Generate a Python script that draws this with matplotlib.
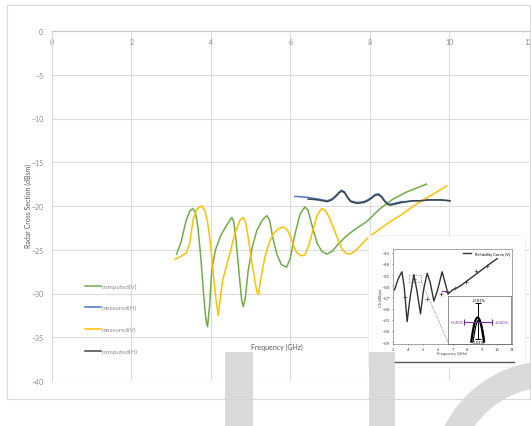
import numpy as np
import matplotlib
matplotlib.use("Agg")
import matplotlib.pyplot as plt
from matplotlib.patches import Rectangle, Wedge
from matplotlib.transforms import IdentityTransform

plt.rcParams['font.family'] = ['Lato', 'DejaVu Sans']

# ---- main series (frequency in GHz, RCS in dBsm) ----
comp_v_f = [3.14, 3.25, 3.38, 3.47, 3.55, 3.62, 3.68, 3.75, 3.82, 3.88, 3.92, 3.97, 4.03, 4.12,
            4.25, 4.40, 4.53, 4.58, 4.64, 4.72, 4.78, 4.82, 4.87, 4.94, 5.04, 5.16, 5.30, 5.41,
            5.48, 5.57, 5.67, 5.78, 5.91, 6.00, 6.12, 6.25, 6.37, 6.45, 6.57, 6.68, 6.80, 6.92,
            7.05, 7.20, 7.42, 7.65, 7.92, 8.26, 8.59, 8.93, 9.20, 9.43]
comp_v_db = [-25.5, -24.2, -21.7, -20.6, -20.3, -20.8, -22.5, -25.8, -30.0, -33.0, -33.8, -31.5,
             -27.2, -25.0, -23.4, -22.2, -21.3, -21.8, -24.0, -28.0, -30.8, -31.5, -30.5, -27.5,
             -24.8, -22.8, -21.6, -21.1, -21.6, -23.8, -25.6, -26.7, -27.0, -26.0, -23.2, -20.9,
             -20.1, -20.5, -22.6, -24.3, -25.2, -25.5, -25.2, -24.4, -23.4, -22.6, -21.8, -20.3,
             -19.2, -18.4, -17.9, -17.5]

meas_v_f = [3.10, 3.23, 3.38, 3.47, 3.56, 3.66, 3.77, 3.85, 3.92, 4.00, 4.07, 4.13, 4.19, 4.23,
            4.30, 4.40, 4.49, 4.57, 4.65, 4.74, 4.82, 4.88, 4.95, 5.03, 5.11, 5.16, 5.20, 5.26,
            5.37, 5.47, 5.57, 5.70, 5.83, 5.92, 6.00, 6.08, 6.16, 6.27, 6.37, 6.47, 6.58, 6.68,
            6.79, 6.88, 6.98, 7.08, 7.20, 7.30, 7.40, 7.50, 7.62, 7.75, 7.92, 8.20, 8.51, 8.80,
            9.10, 9.50, 9.94]
meas_v_db = [-26.1, -25.8, -25.4, -24.3, -21.5, -20.3, -20.0, -20.5, -21.8, -24.5, -28.0, -30.6,
             -32.5, -31.0, -28.5, -26.8, -25.3, -23.8, -22.6, -21.6, -21.3, -21.9, -23.8, -26.3,
             -28.5, -29.8, -30.1, -28.3, -25.7, -24.2, -23.2, -22.6, -22.4, -22.7, -23.4, -24.5,
             -25.3, -25.7, -25.6, -24.5, -22.6, -21.0, -20.3, -20.5, -21.3, -22.4, -23.8, -24.9,
             -25.4, -25.5, -25.2, -24.6, -23.8, -22.8, -21.8, -21.0, -20.0, -18.9, -17.7]

meas_h_f = [6.12, 6.40, 6.70, 6.93, 7.05, 7.15, 7.23, 7.30, 7.37, 7.45, 7.52, 7.59, 7.70, 7.85,
            7.95, 8.05, 8.13, 8.22, 8.30, 8.38, 8.45, 8.51, 8.62, 8.80, 8.93, 9.10, 9.27, 9.50,
            9.77, 10.02]
meas_h_db = [-18.9, -19.0, -19.2, -19.4, -19.2, -18.8, -18.4, -18.2, -18.4, -19.0, -19.4, -19.5,
             -19.6, -19.5, -19.3, -19.0, -18.7, -18.6, -18.9, -19.4, -19.7, -19.8, -19.7, -19.5,
             -19.5, -19.4, -19.4, -19.3, -19.3, -19.4]

comp_h_f = [6.45, 6.70, 6.93, 7.05, 7.15, 7.23, 7.30, 7.37, 7.45, 7.52, 7.59, 7.70, 7.85, 7.95,
            8.05, 8.13, 8.22, 8.30, 8.38, 8.45, 8.51, 8.62, 8.80, 8.93, 9.10, 9.27, 9.50, 9.77,
            10.02]
comp_h_db = [-19.2, -19.3, -19.5, -19.3, -18.9, -18.5, -18.3, -18.5, -19.1, -19.5, -19.6, -19.7,
             -19.6, -19.4, -19.1, -18.8, -18.7, -19.0, -19.5, -19.8, -19.9, -19.8, -19.6, -19.5,
             -19.4, -19.4, -19.3, -19.3, -19.4]

x_ticks = [0, 2, 4, 6, 8, 10, 12]
y_ticks = [0, -5, -10, -15, -20, -25, -30, -35, -40]

# ---- small reliability-curve graphic ----
rel_f = [3.1, 3.35, 3.6, 3.75, 3.95, 4.15, 4.4, 4.6, 4.85, 5.05, 5.3, 5.5, 5.75, 6.0, 6.3, 6.5,
         6.7, 7.0, 7.5, 8.0, 8.5, 9.0, 9.5, 10.0]
rel_db = [-25.0, -22.0, -20.1, -24.0, -33.5, -27.0, -20.9, -25.0, -31.4, -25.0, -20.5, -23.0,
          -28.0, -25.0, -20.1, -23.0, -26.1, -25.0, -24.0, -22.5, -21.0, -19.5, -18.0, -16.6]
rel_mark_f = [3.8, 4.4, 5.3, 6.2, 6.6, 7.2, 7.9, 8.6, 9.3]
rel_mark_db = [-27.0, -22.0, -27.5, -26.0, -25.5, -24.5, -22.8, -20.0, -18.5]
rel_x_ticks = [3, 4, 5, 6, 7, 8, 9, 10, 11]
rel_x_labels = ['2', '4', '5', '6', '7', '8', '9', '10', '11']
rel_y_ticks = [-15, -18, -21, -24, -27, -30, -33, -36, -39]

W, H = 531, 427
fig = plt.figure(figsize=(W / 100, H / 100), dpi=100)


def px_box(x0, y0, x1, y1):
    return [x0 / W, 1 - y1 / H, (x1 - x0) / W, (y1 - y0) / H]


# chart-area frame
fig.patches.append(Rectangle((7 / W, 1 - 400 / H), 523 / W, 394 / H, transform=fig.transFigure,
                             fill=False, edgecolor='#d9d9d9', lw=0.8))

ax = fig.add_axes(px_box(51.7, 32, 528.7, 382))
ax.set_xlim(0, 12)
ax.set_ylim(-40, 0)
ax.set_xticks(x_ticks)
ax.set_yticks(y_ticks)
ax.grid(True, color='#dcdcdc', lw=0.8)
ax.set_axisbelow(True)
for s in ['bottom', 'right']:
    ax.spines[s].set_visible(False)
ax.spines['top'].set_color('#c8c8c8')
ax.spines['left'].set_color('#d9d9d9')
ax.tick_params(axis='x', bottom=False, labelbottom=False, top=True, labeltop=True, length=0,
               pad=-10, labelsize=5, labelcolor='#8c8c8c')
ax.tick_params(axis='y', length=0, pad=6, labelsize=5, labelcolor='#8c8c8c')

ax.plot(comp_v_f, comp_v_db, color='#70ad47', lw=1.1, label='computed(V)')
ax.plot(meas_h_f, meas_h_db, color='#4a74c4', lw=1.1, label='measured(H)')
ax.plot(meas_v_f, meas_v_db, color='#ffc000', lw=1.1, label='measured(V)')
ax.plot(comp_h_f, comp_h_db, color='#3d4848', lw=1.1, label='computed(H)')

leg = ax.legend(loc='upper left', bbox_to_anchor=(0.058, 0.295), frameon=False, fontsize=4.5,
                labelspacing=2.6, handlelength=2.6, handletextpad=0.1, labelcolor='#8c8c8c')

ax.text(5.67, -36.0, 'Frequency (GHz)', ha='center', va='center', fontsize=5, color='#595959')
fig.text(28 / W, 1 - 206 / H, 'Radar Cross Section (dBsm)', rotation=90, ha='center',
         va='center', fontsize=5, color='#595959')

# ---- reliability-curve graphic, lower right ----
fig.patches.append(Rectangle((368 / W, 1 - 368 / H), 157 / W, 132 / H, transform=fig.transFigure,
                             facecolor='white', edgecolor='#eeeeee', lw=0.5, zorder=2))
ins = fig.add_axes(px_box(393, 250, 512, 345), zorder=3)
ins.set_xlim(3, 11)
ins.set_ylim(-39.5, -14)
ins.plot(rel_f, rel_db, color='#333333', lw=1.0, label='Reliability Curve (V)')
ins.plot(rel_mark_f, rel_mark_db, ls='none', marker='+', ms=3, mew=0.5, color='#444444')
ins.set_xticks(rel_x_ticks)
ins.set_xticklabels(rel_x_labels)
ins.set_yticks(rel_y_ticks)
ins.tick_params(labelsize=3, length=1, pad=1, colors='#444444', width=0.4)
for s in ins.spines.values():
    s.set_linewidth(0.4)
    s.set_color('#666666')
ins.set_xlabel('Frequency (GHz)', fontsize=3, labelpad=0.5, color='#444444')
ins.set_ylabel('CS (dBsm)', fontsize=3, labelpad=0.5, color='#444444')
ins.legend(loc='upper right', fontsize=3, frameon=False, handlelength=2, borderaxespad=0.2)
ins.add_patch(Rectangle((4.1, -22.8), 0.8, 1.8, fill=False, ls=(0, (1, 1)), lw=0.5,
                        edgecolor='#666666'))
ins.plot([4.9, 6.7], [-22.8, -39.0], ls=(0, (1, 1)), lw=0.5, color='#666666')
ins.plot([6.3, 6.7], [-25.3, -25.3], color='#7030a0', lw=0.8)

# zoomed detail box
sub = fig.add_axes(px_box(448, 297, 511, 345), zorder=4)
sub.set_xlim(0, 1)
sub.set_ylim(0, 1)
sub.set_xticks([])
sub.set_yticks([])
for s in sub.spines.values():
    s.set_linestyle((0, (1, 1)))
    s.set_linewidth(0.5)
    s.set_color('#666666')
t = np.linspace(-1, 1, 40)
sub.plot(0.47 + 0.1 * t, 0.55 - 0.5 * t ** 2, color='black', lw=1.6)
sub.plot(0.49 + 0.09 * t, 0.5 - 0.45 * t ** 2, color='black', lw=0.8)
sub.errorbar([0.48], [0.55], yerr=[[0.45], [0.3]], color='black', lw=0.7, capsize=2,
             capthick=0.7)
sub.errorbar([0.48], [0.45], xerr=[[0.22], [0.22]], color='#7030a0', lw=0.8, capsize=2,
             capthick=0.8)
sub.text(0.48, 0.92, '+0.01%', ha='center', va='center', fontsize=3, color='black')
sub.text(0.48, 0.04, '-0.01%', ha='center', va='center', fontsize=3, color='black')
sub.text(0.14, 0.45, '-0.20%', ha='center', va='center', fontsize=3, color='#7030a0')
sub.text(0.85, 0.45, '+0.20%', ha='center', va='center', fontsize=3, color='#7030a0')

fig.add_artist(plt.Line2D([393 / W, 514 / W], [1 - 363 / H, 1 - 363 / H], color='#555555',
                          lw=1.0, zorder=5))

# watermark shapes
wm = '#d4d4d4'
fig.patches.append(Rectangle((225 / W, 0), 28 / W, (H - 353) / H, transform=fig.transFigure,
                             facecolor=wm, edgecolor='none', alpha=0.85, zorder=10))
fig.patches.append(Rectangle((369 / W, 0), 26 / W, (H - 353) / H, transform=fig.transFigure,
                             facecolor=wm, edgecolor='none', alpha=0.85, zorder=10))
fig.patches.append(Wedge((550, H - 480), 118, 90, 200, width=26, transform=IdentityTransform(),
                         facecolor=wm, edgecolor='none', alpha=0.85, zorder=10))

fig.savefig('out.png', dpi=100)
